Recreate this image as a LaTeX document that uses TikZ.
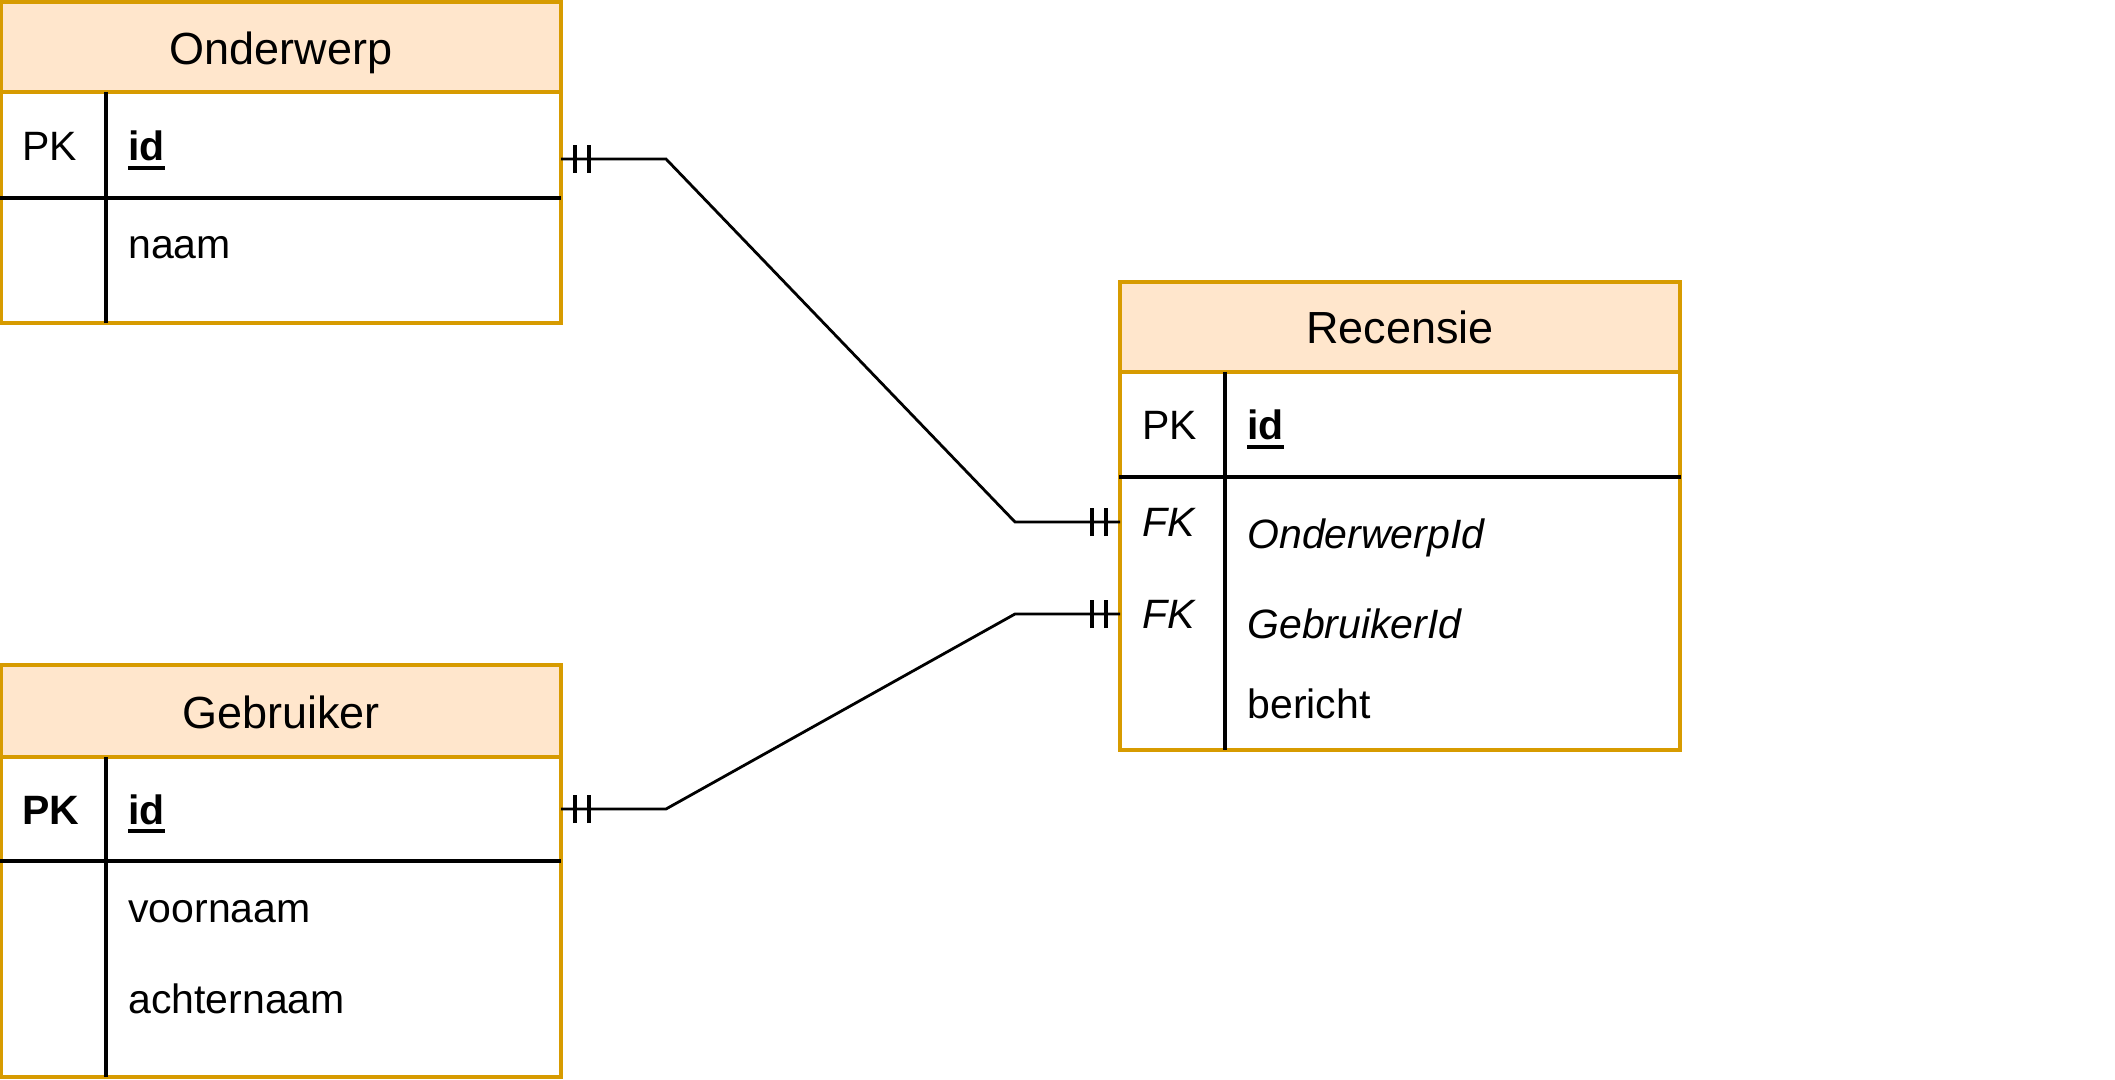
\documentclass[tikz,border=0pt]{standalone}
\usepackage{fontspec}
\setmainfont{Liberation Sans}
\usetikzlibrary{calc,decorations.markings}
\definecolor{entfill}{HTML}{FFE6CC}
\definecolor{entline}{HTML}{D79B00}

\newcommand{\pkfield}[1]{{\setbox0=\hbox{\bfseries #1}\rlap{\vrule width\wd0 height -2.5pt depth 4.4pt}\box0}}

\tikzset{
  entbox/.style={draw=entline, line width=1.7pt, minimum width=280pt, anchor=north west, inner sep=0pt, outer sep=0pt},
  enthead/.style={entbox, fill=entfill},
  enttitle/.style={anchor=base, inner sep=0pt, font=\fontsize{22.5}{26}\selectfont},
  field/.style={anchor=base west, inner sep=0pt, font=\fontsize{20.5}{24}\selectfont},
  divider/.style={line width=1.7pt},
  relation/.style={line width=1.4pt, postaction={decorate}, decoration={markings,
    mark=at position 7pt with {\draw[line width=1.8pt] (0,-7pt) -- (0,7pt);},
    mark=at position 14pt with {\draw[line width=1.8pt] (0,-7pt) -- (0,7pt);},
    mark=at position -14pt with {\draw[line width=1.8pt] (0,-7pt) -- (0,7pt);},
    mark=at position -7pt with {\draw[line width=1.8pt] (0,-7pt) -- (0,7pt);}}}
}

\begin{document}
\begin{tikzpicture}[x=0.5pt, y=-0.5pt]
  \useasboundingbox (0,0) rectangle (2115,1080);

  % Onderwerp
  \node[enthead, minimum height=45pt] (ond-head) at (1,2) {};
  \node[entbox, minimum height=115.5pt] (ond-body) at (1,92) {};
  \draw[divider] (0,198) -- (561,198);
  \draw[divider] (106,92) -- (106,323);
  \node[enttitle] (ond-title) at (281,65) {Onderwerp};
  \node[field] (ond-pk) at (22,161) {PK};
  \node[field] (ond-id) at (128,161) {\pkfield{id}};
  \node[field] (ond-naam) at (128,259) {naam};

  % Gebruiker
  \node[enthead, minimum height=46pt] (geb-head) at (1,665) {};
  \node[entbox, minimum height=160pt] (geb-body) at (1,757) {};
  \draw[divider] (0,861) -- (561,861);
  \draw[divider] (106,757) -- (106,1077);
  \node[enttitle] (geb-title) at (281,728) {Gebruiker};
  \node[field] (geb-pk) at (22,824) {\textbf{PK}};
  \node[field] (geb-id) at (128,824) {\pkfield{id}};
  \node[field] (geb-voornaam) at (128,922) {voornaam};
  \node[field] (geb-achternaam) at (128,1013) {achternaam};

  % Recensie
  \node[enthead, minimum height=45pt] (rec-head) at (1120,282) {};
  \node[entbox, minimum height=189pt] (rec-body) at (1120,372) {};
  \draw[divider] (1119,477) -- (1681,477);
  \draw[divider] (1225,372) -- (1225,750);
  \node[enttitle] (rec-title) at (1400,344) {Recensie};
  \node[field] (rec-pk) at (1142,440) {PK};
  \node[field] (rec-id) at (1247,440) {\pkfield{id}};
  \node[field] (rec-fk1) at (1142,537) {\textit{FK}};
  \node[field] (rec-onderwerpid) at (1247,548) {\textit{OnderwerpId}};
  \node[field] (rec-fk2) at (1142,628) {\textit{FK}};
  \node[field] (rec-gebruikerid) at (1247,638) {\textit{GebruikerId}};
  \node[field] (rec-bericht) at (1247,718) {bericht};

  % relaties
  \coordinate (ond-port) at ($(ond-body.north east)+(0,67)$);
  \coordinate (geb-port) at ($(geb-body.north east)+(0,52)$);
  \coordinate (rec-port1) at ($(rec-body.north west)+(0,150)$);
  \coordinate (rec-port2) at ($(rec-body.north west)+(0,242)$);
  \draw[relation] (ond-port) -- ++(105,0) -- ($(rec-port1)+(-105,0)$) -- (rec-port1);
  \draw[relation] (geb-port) -- ++(105,0) -- ($(rec-port2)+(-105,0)$) -- (rec-port2);
\end{tikzpicture}
\end{document}
